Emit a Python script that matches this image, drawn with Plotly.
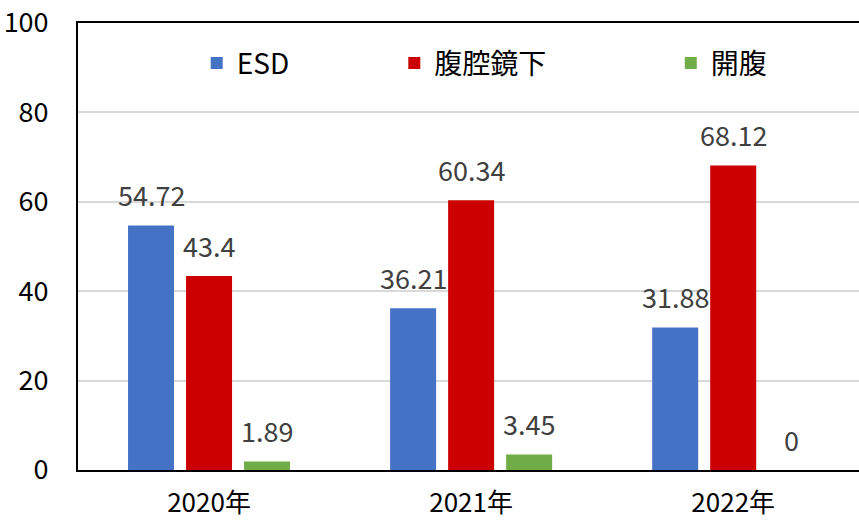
import plotly.graph_objects as go

categories = ["2020年", "2021年", "2022年"]
series_names = ["ESD", "腹腔鏡下", "開腹"]
esd = [54.72, 36.21, 31.88]
laparoscopic = [43.4, 60.34, 68.12]
open_surgery = [1.89, 3.45, 0]
y_ticks = [0, 20, 40, 60, 80, 100]

colors = ["#4472C4", "#CC0000", "#70AD47"]
values = [esd, laparoscopic, open_surgery]
legend_ids = ["legend", "legend2", "legend3"]
legend_x = [0.152, 0.405, 0.759]
label_shift = [-58, 0, 58]

FONT = "Noto Sans CJK JP, sans-serif"

fig = go.Figure()
for name, vals, col, lg in zip(series_names, values, colors, legend_ids):
    fig.add_trace(go.Bar(x=categories, y=vals, name=name, marker_color=col,
                         marker_line_width=0, legend=lg))

for vals, dx in zip(values, label_shift):
    for c, v in zip(categories, vals):
        fig.add_annotation(x=c, y=v, text=f"{v:g}", showarrow=False,
                           xshift=dx, yshift=31, yanchor="middle",
                           font=dict(family=FONT, size=27, color="#404040"))

legend_common = dict(orientation="h", yanchor="middle", y=0.91, xanchor="left",
                     font=dict(family=FONT, size=28, color="#000000"),
                     bgcolor="rgba(0,0,0,0)", itemwidth=30)
layout_legends = {}
for lg, lx in zip(legend_ids, legend_x):
    layout_legends[lg] = dict(legend_common, x=lx)

fig.update_layout(
    width=859, height=521,
    margin=dict(l=78, r=0, t=23, b=51, autoexpand=False),
    plot_bgcolor="white", paper_bgcolor="white",
    barmode="group", bargap=0.336, bargroupgap=0.207,
    showlegend=True,
    **layout_legends,
)
fig.update_xaxes(range=[-0.5, 2.48], showline=True, linecolor="black", linewidth=2,
                 mirror=True, ticks="", ticklabelstandoff=9, automargin=False,
                 tickfont=dict(family=FONT, size=26, color="#000000"))
fig.update_yaxes(range=[0, 100], tickvals=y_ticks, showline=True, linecolor="black",
                 linewidth=2, ticks="", ticklabelstandoff=22, automargin=False,
                 ticklabeloverflow="allow",
                 gridcolor="#D9D9D9", gridwidth=2, zeroline=False,
                 tickfont=dict(family=FONT, size=27, color="#000000"))

fig.write_html("out.html", config={"displayModeBar": False},
               post_script="document.body.style.margin='0';document.body.style.overflow='hidden';")
